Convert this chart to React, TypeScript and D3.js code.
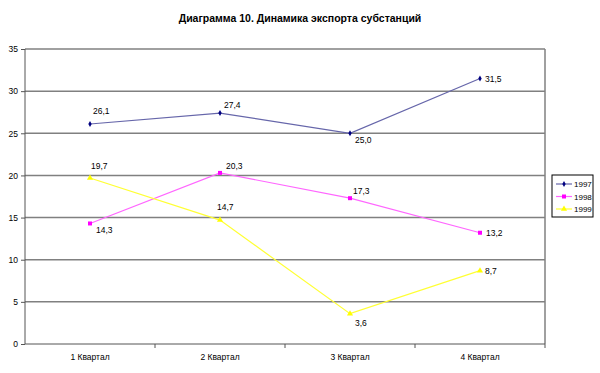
import React, { useEffect, useRef } from 'react';
import * as d3 from 'd3';

const title = 'Диаграмма 10. Динамика экспорта субстанций';
const quarters = ['1 Квартал', '2 Квартал', '3 Квартал', '4 Квартал'];
const seriesNames = ['1997', '1998', '1999'];
const values1997 = [26.1, 27.4, 25.0, 31.5];
const values1998 = [14.3, 20.3, 17.3, 13.2];
const values1999 = [19.7, 14.7, 3.6, 8.7];
const yTicks = [0, 5, 10, 15, 20, 25, 30, 35];

// label placement per point: [dx, dy] relative to the marker
const labelOffsets = [
  [[3, -10], [4, -5], [5, 10], [5, 3]],
  [[6, 10], [6, -4], [3, -4], [6, 3]],
  [[1, -9], [-3, -10], [5, 12], [5, 3]],
];

function App() {
  const svgRef = useRef(null);

  useEffect(() => {
    const svg = d3.select(svgRef.current);
    svg.selectAll('*').remove();

    const width = 600;
    const height = 373;
    const plot = { left: 25, right: 545, top: 49, bottom: 344 };
    const font = 'Liberation Sans, Arial, sans-serif';

    svg.attr('width', width).attr('height', height).style('display', 'block');
    svg.append('rect').attr('width', width).attr('height', height).attr('fill', '#fff');

    const x = d3.scaleBand().domain(quarters).range([plot.left, plot.right]);
    const y = d3.scaleLinear().domain([0, 35]).range([plot.bottom, plot.top]);

    svg.append('text')
      .attr('x', 300).attr('y', 22)
      .attr('text-anchor', 'middle')
      .attr('font-family', font).attr('font-size', 10.5).attr('font-weight', 'bold')
      .text(title);

    // gridlines
    svg.append('g').selectAll('line')
      .data(yTicks.filter(t => t > 0))
      .join('line')
      .attr('x1', plot.left).attr('x2', plot.right)
      .attr('y1', d => y(d)).attr('y2', d => y(d))
      .attr('stroke', '#808080').attr('stroke-width', 1.5);

    // right border of the plot
    svg.append('line')
      .attr('x1', plot.right).attr('x2', plot.right)
      .attr('y1', plot.top).attr('y2', plot.bottom)
      .attr('stroke', '#808080').attr('stroke-width', 1.5);

    const yAxis = svg.append('g')
      .attr('transform', `translate(${plot.left},0)`)
      .call(d3.axisLeft(y).tickValues(yTicks).tickSize(4).tickPadding(3));
    yAxis.selectAll('text').attr('font-family', font).attr('font-size', 8.5).attr('fill', '#000');
    yAxis.selectAll('line,path').attr('stroke', '#555');
    yAxis.select('.domain').attr('d', `M0,${plot.top}V${plot.bottom}`);

    const xAxis = svg.append('g')
      .attr('transform', `translate(0,${plot.bottom})`)
      .call(d3.axisBottom(x).tickSize(0).tickPadding(10));
    xAxis.selectAll('text').attr('font-family', font).attr('font-size', 8.5).attr('fill', '#000');
    xAxis.select('.domain').attr('stroke', '#555').attr('d', `M${plot.left},0H${plot.right}`);
    xAxis.append('g').selectAll('line')
      .data(quarters.slice(1).concat(['end']))
      .join('line')
      .attr('x1', (d, i) => plot.left + x.step() * (i + 1))
      .attr('x2', (d, i) => plot.left + x.step() * (i + 1))
      .attr('y1', 0).attr('y2', 4)
      .attr('stroke', '#555');

    const series = [
      { name: seriesNames[0], values: values1997, line: '#6666aa', marker: '#000080', shape: d3.symbolDiamond, size: 10 },
      { name: seriesNames[1], values: values1998, line: '#ff66ff', marker: '#ff00ff', shape: d3.symbolSquare, size: 16 },
      { name: seriesNames[2], values: values1999, line: '#ffff33', marker: '#ffff00', shape: d3.symbolTriangle, size: 16 },
    ];

    const cx = q => x(q) + x.bandwidth() / 2;
    const line = d3.line().x((d, i) => cx(quarters[i])).y(d => y(d));

    series.forEach((s, si) => {
      const g = svg.append('g');
      g.append('path')
        .datum(s.values)
        .attr('fill', 'none')
        .attr('stroke', s.line)
        .attr('stroke-width', 1.2)
        .attr('d', line);
      g.selectAll('path.m')
        .data(s.values)
        .join('path')
        .attr('class', 'm')
        .attr('transform', (d, i) => `translate(${cx(quarters[i])},${y(d)})`)
        .attr('d', d3.symbol().type(s.shape).size(s.size))
        .attr('fill', s.marker);
      g.selectAll('text')
        .data(s.values)
        .join('text')
        .attr('x', (d, i) => cx(quarters[i]) + labelOffsets[si][i][0])
        .attr('y', (d, i) => y(d) + labelOffsets[si][i][1])
        .attr('font-family', font).attr('font-size', 8.5)
        .attr('fill', '#000')
        .text(d => d.toFixed(1).replace('.', ','));
    });

    // legend
    const legend = svg.append('g').attr('transform', 'translate(552,175)');
    legend.append('rect')
      .attr('width', 41).attr('height', 42)
      .attr('fill', '#fff').attr('stroke', '#000').attr('stroke-width', 1);
    series.forEach((s, i) => {
      const ly = 9 + i * 12.5;
      legend.append('line')
        .attr('x1', 4).attr('x2', 20).attr('y1', ly).attr('y2', ly)
        .attr('stroke', s.line).attr('stroke-width', 1.2);
      legend.append('path')
        .attr('transform', `translate(12,${ly})`)
        .attr('d', d3.symbol().type(s.shape).size(s.size))
        .attr('fill', s.marker);
      legend.append('text')
        .attr('x', 22).attr('y', ly + 3)
        .attr('font-family', font).attr('font-size', 8)
        .attr('fill', '#000')
        .text(s.name);
    });
  }, []);

  return <svg ref={svgRef} style={{ position: 'absolute', left: 0, top: 0 }}></svg>;
}

export default App;
